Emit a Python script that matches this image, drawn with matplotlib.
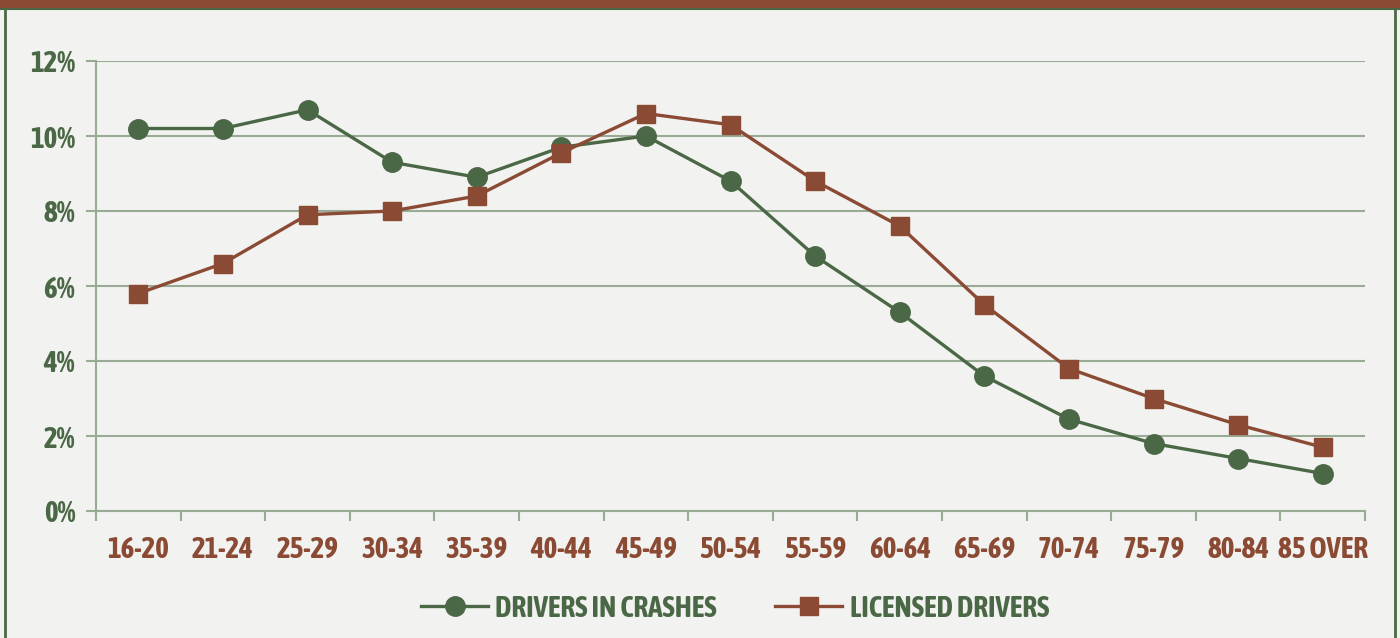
import numpy as np
import matplotlib.pyplot as plt
from matplotlib import font_manager
from matplotlib.patches import Rectangle
from matplotlib.lines import Line2D

age_groups = ["16-20", "21-24", "25-29", "30-34", "35-39", "40-44", "45-49",
              "50-54", "55-59", "60-64", "65-69", "70-74", "75-79", "80-84",
              "85 OVER"]
drivers_in_crashes = [10.2, 10.2, 10.7, 9.3, 8.9, 9.7, 10.0, 8.8, 6.8, 5.3,
                      3.6, 2.45, 1.8, 1.4, 1.0]
licensed_drivers = [5.8, 6.6, 7.9, 8.0, 8.4, 9.55, 10.6, 10.3, 8.8, 7.6,
                    5.5, 3.8, 3.0, 2.3, 1.7]
y_ticks = [0, 2, 4, 6, 8, 10, 12]

GREEN = "#4b6846"
BROWN = "#8a4a33"
GRID = "#9aab95"
BG = "#f2f2f0"


def weight_of(entry):
    w = entry.weight
    return w if isinstance(w, int) else font_manager.weight_dict.get(w, 400)


# the original uses a condensed bold face; take one if the system has it
font_file = None
for stretch in ["condensed", "semi-condensed", "extra-condensed"]:
    hits = [f for f in font_manager.fontManager.ttflist
            if f.stretch == stretch and 600 <= weight_of(f) <= 750
            and f.style == "normal"]
    if hits:
        font_file = sorted(hits, key=lambda f: f.name)[0].fname
        break

if font_file:
    def fp(size):
        return font_manager.FontProperties(fname=font_file, size=size)
else:
    def fp(size):
        return font_manager.FontProperties(family="Roboto", weight="bold",
                                           size=size - 4)

FS = 21

fig = plt.figure(figsize=(14, 6.38), dpi=100, facecolor=BG)
ax = fig.add_axes([96 / 1400, 1 - 511 / 638, (1365 - 96) / 1400, 450 / 638])
ax.set_facecolor(BG)

x = np.arange(len(age_groups))
ax.plot(x, drivers_in_crashes, color=GREEN, lw=2.4, marker="o", ms=14,
        mec=GREEN, mfc=GREEN, zorder=3, label="DRIVERS IN CRASHES")
ax.plot(x, licensed_drivers, color=BROWN, lw=2.4, marker="s", ms=12.5,
        mec=BROWN, mfc=BROWN, zorder=3, label="LICENSED DRIVERS")

ax.set_xlim(-0.5, len(age_groups) - 0.5)
ax.set_ylim(0, 12)
ax.set_yticks(y_ticks)
ax.set_yticklabels([f"{v}%" for v in y_ticks])
ax.yaxis.grid(True, color=GRID, lw=1.5)
ax.set_axisbelow(True)

ax.set_xticks(x)
ax.set_xticklabels(age_groups)
ax.set_xticks(np.arange(len(age_groups) + 1) - 0.5, minor=True)
ax.tick_params(axis="x", which="major", length=0, pad=17, labelcolor=BROWN)
ax.tick_params(axis="x", which="minor", length=7, width=1.5, color=GRID)
ax.tick_params(axis="y", length=7, width=1.5, color=GRID, pad=8,
               labelcolor=GREEN)
for lab in ax.get_xticklabels() + ax.get_yticklabels():
    lab.set_fontproperties(fp(FS))

for side in ["top", "right"]:
    ax.spines[side].set_visible(False)
for side in ["left", "bottom"]:
    ax.spines[side].set_color(GRID)
    ax.spines[side].set_linewidth(1.5)

leg = fig.legend(loc="center", bbox_to_anchor=(0.525, 0.047), ncol=2,
                 frameon=False, handlelength=2.3, columnspacing=2.0,
                 handletextpad=0.25, prop=fp(FS))
for t in leg.get_texts():
    t.set_color(GREEN)

# frame: brown band on top, green border
fig.patches.append(Rectangle((0, 1 - 8 / 638), 1, 8 / 638, transform=fig.transFigure,
                             color=BROWN, zorder=0))
fig.lines.append(Line2D([0, 1], [1 - 9 / 638] * 2, transform=fig.transFigure,
                        color=GREEN, lw=1.5))
fig.lines.append(Line2D([5 / 1400] * 2, [0, 1 - 9 / 638], transform=fig.transFigure,
                        color=GREEN, lw=2))
fig.lines.append(Line2D([1395 / 1400] * 2, [0, 1 - 9 / 638], transform=fig.transFigure,
                        color=GREEN, lw=2))

fig.savefig("out.png", dpi=100, facecolor=BG)
